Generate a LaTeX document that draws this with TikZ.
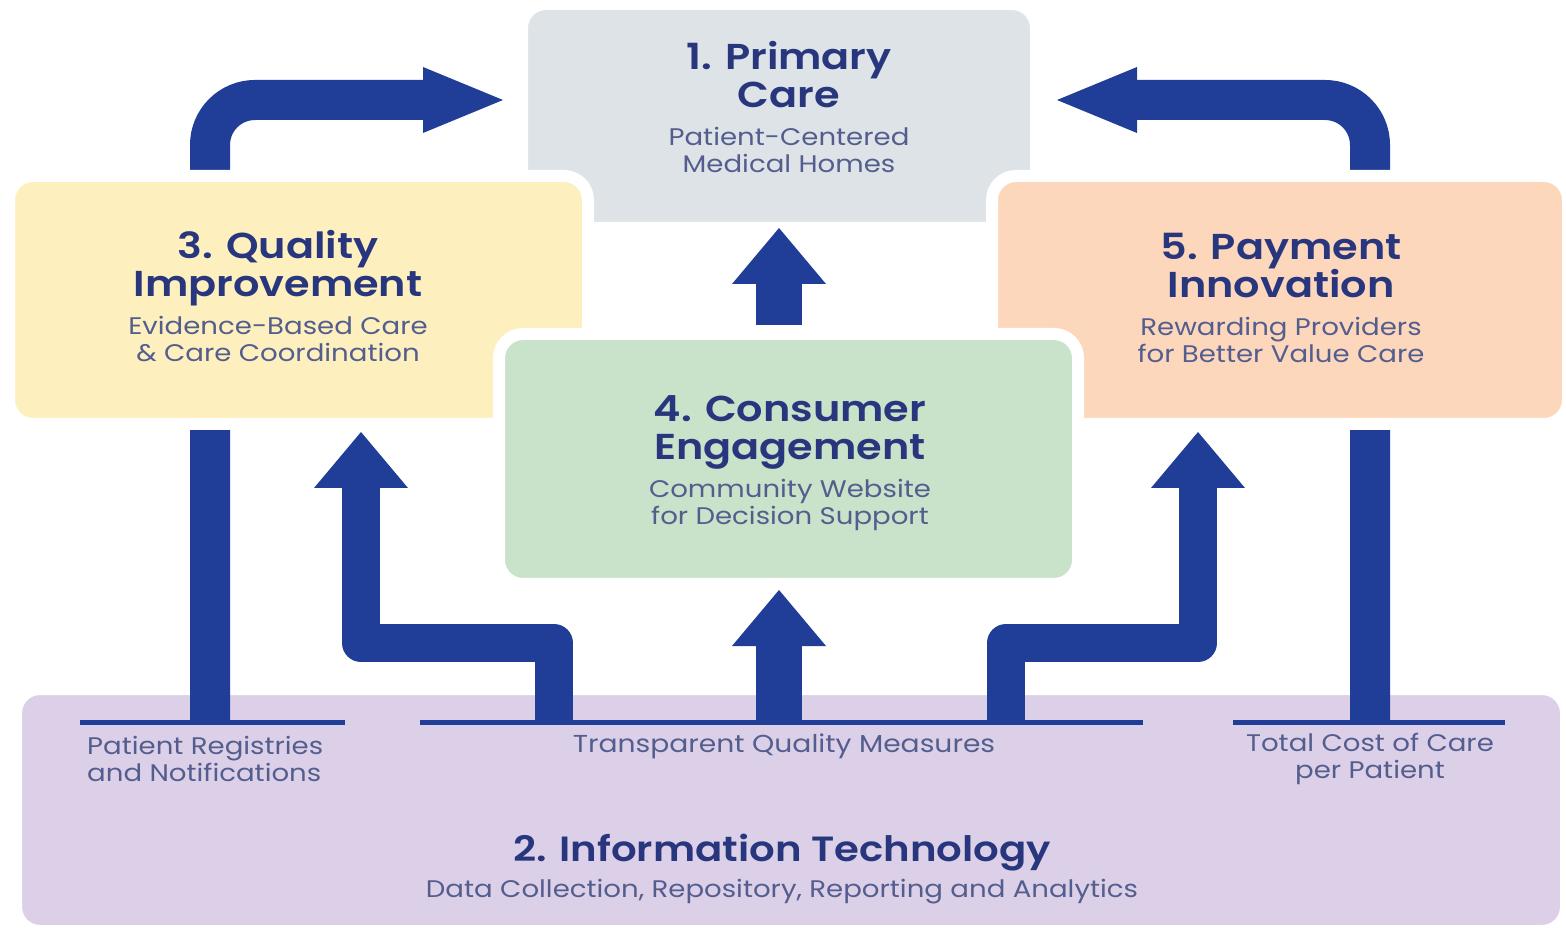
\documentclass[tikz,border=0pt]{standalone}
\usepackage{fontspec}
\setmainfont{Poppins}[FakeStretch=1.15, BoldFont={Poppins SemiBold}]
\usetikzlibrary{arrows.meta, positioning}
\definecolor{hcBlue}{RGB}{32,62,152}
\definecolor{hcNavy}{RGB}{40,54,126}
\definecolor{hcSlate}{RGB}{84,94,142}
\definecolor{hcGrey}{RGB}{221,227,230}
\definecolor{hcYellow}{RGB}{253,240,190}
\definecolor{hcPeach}{RGB}{253,215,188}
\definecolor{hcGreen}{RGB}{201,226,202}
\definecolor{hcLilac}{RGB}{220,208,232}

\begin{document}
\begin{tikzpicture}[
    x=1pt, y=1pt,
    pillar/.style={draw=white, line width=12pt, rounded corners=24pt, inner sep=0pt},
    head/.style={font=\fontsize{36}{38}\selectfont\bfseries, text=hcNavy, align=center, inner sep=0pt, text depth=9pt},
    sub/.style={font=\fontsize{24}{27}\selectfont, text=hcSlate, align=center, inner sep=0pt},
    bar/.style={draw=hcBlue, line width=5pt},
    flowup/.style={draw=hcBlue, line width=46pt, -{Triangle[length=56pt, width=94pt, line width=0pt]}},
    flowbend/.style={draw=hcBlue, line width=40pt, rounded corners=45pt, -{Triangle[length=80pt, width=66pt, line width=0pt]}},
    flowstep/.style={draw=hcBlue, line width=38pt, line join=round, -{Triangle[length=56pt, width=94pt, line width=0pt]}},
    node distance=10pt
]
    \useasboundingbox (0,0) rectangle (1566,930);
    \fill[white] (0,0) rectangle (1566,930);

    % bottom layer and the top box
    \node[pillar, fill=hcLilac, minimum width=1550pt, minimum height=242pt] (infotech) at (791,120) {};
    \node[pillar, fill=hcGrey, minimum width=514pt, minimum height=224pt] (primary) at (779,814) {};

    % measure rules along the bottom layer
    \draw[bar] (80,208) -- (345,208);
    \draw[bar] (420,208) -- (1143,208);
    \draw[bar] (1233,208) -- (1505,208);

    \coordinate (regFoot) at (210,208);
    \coordinate (costFoot) at (1370,208);
    \coordinate (qiFoot) at (554,208);
    \coordinate (ceFoot) at (779,208);
    \coordinate (piFoot) at (1006,208);
    \coordinate (qiTip) at (361,498);
    \coordinate (piTip) at (1198,498);
    \coordinate (pcInL) at (503,830);
    \coordinate (pcInR) at (1057,830);

    % flows (the side boxes are laid over them afterwards)
    \draw[flowbend] (regFoot) |- (pcInL);
    \draw[flowbend] (costFoot) |- (pcInR);
    \draw[flowstep] (qiFoot) -- ++(0,79) -| (qiTip);
    \draw[flowstep] (piFoot) -- ++(0,79) -| (piTip);
    \draw[flowup, shorten >=6pt] (ceFoot) -- (ceFoot |- 0,346);
    \draw[flowup, shorten <=9pt, shorten >=-6pt] (primary.south |- 0,596) -- (primary.south);

    % middle boxes
    \node[pillar, fill=hcYellow, minimum width=579pt, minimum height=248pt] (quality) at (298.5,630) {};
    \node[pillar, fill=hcPeach, minimum width=576pt, minimum height=248pt] (payment) at (1280,630) {};
    \node[pillar, fill=hcGreen, minimum width=579pt, minimum height=250pt] (consumer) at (788.5,471) {};

    % labels
    \node[head] (pcHead) at (789,851) {1. Primary\\Care};
    \node[sub, below=10pt of pcHead] (pcSub) {Patient-Centered\\Medical Homes};
    \node[head] (qiHead) at (278,662) {3. Quality\\Improvement};
    \node[sub, below=10pt of qiHead] (qiSub) {Evidence-Based Care\\\& Care Coordination};
    \node[head] (piHead) at (1281,660) {5. Payment\\Innovation};
    \node[sub, below=10pt of piHead] (piSub) {Rewarding Providers\\for Better Value Care};
    \node[head] (ceHead) at (790,498) {4. Consumer\\Engagement};
    \node[sub, below=10pt of ceHead] (ceSub) {Community Website\\for Decision Support};
    \node[head, font=\fontsize{35}{38}\selectfont\bfseries] (itHead) at (782,78) {2. Information Technology};
    \node[sub, below=9pt of itHead] (itSub) {Data Collection, Repository, Reporting and Analytics};

    \node[sub, align=left, anchor=west] (regText) at (87,171) {Patient Registries\\and Notifications};
    \node[sub, font=\fontsize{24.5}{27}\selectfont] (tqmText) at (784,184) {Transparent Quality Measures};
    \node[sub] (costText) at (1370,171) {Total Cost of Care\\per Patient};
\end{tikzpicture}
\end{document}
